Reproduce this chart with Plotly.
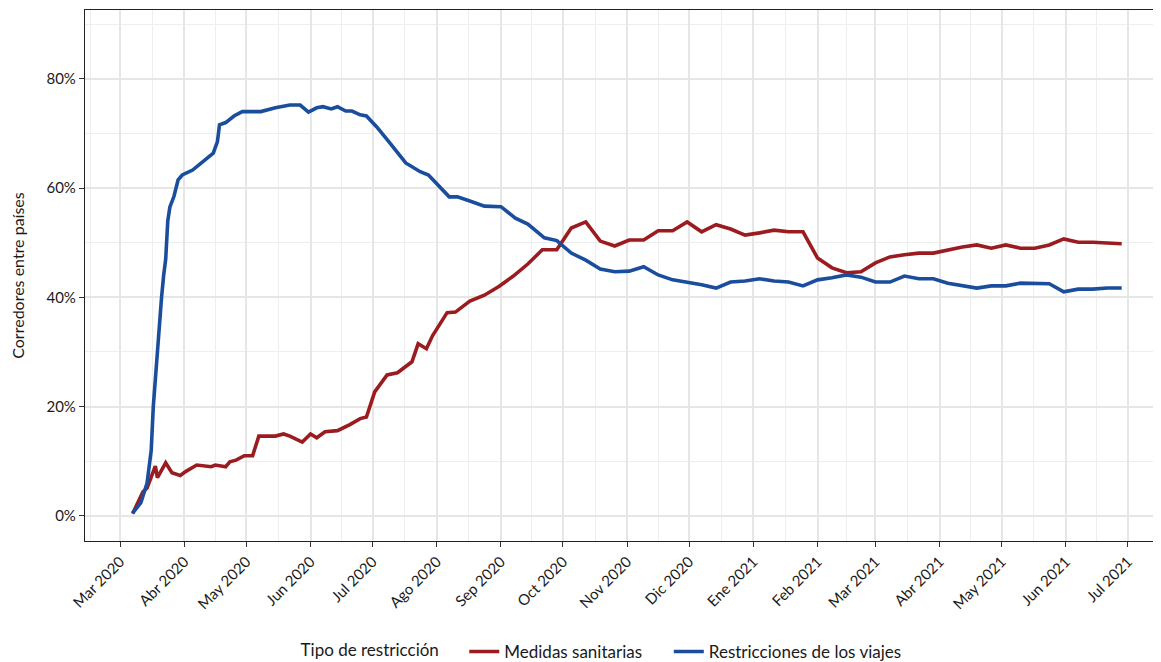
import pandas as pd
import plotly.graph_objects as go

# ---- Data ----
viajes_dates = [
    "2020-03-07", "2020-03-11", "2020-03-14", "2020-03-16", "2020-03-17", "2020-03-19",
    "2020-03-21", "2020-03-22", "2020-03-23", "2020-03-24", "2020-03-25", "2020-03-27",
    "2020-03-28", "2020-03-29", "2020-03-31", "2020-04-03", "2020-04-05", "2020-04-15",
    "2020-04-17", "2020-04-18", "2020-04-21", "2020-04-25", "2020-04-29", "2020-05-08",
    "2020-05-15", "2020-05-22", "2020-05-27", "2020-05-31", "2020-06-04", "2020-06-07",
    "2020-06-11", "2020-06-14", "2020-06-18", "2020-06-21", "2020-06-25", "2020-06-28",
    "2020-07-03", "2020-07-09", "2020-07-17", "2020-07-24", "2020-07-28", "2020-08-07",
    "2020-08-11", "2020-08-18", "2020-08-24", "2020-09-01", "2020-09-08", "2020-09-14",
    "2020-09-22", "2020-09-28", "2020-10-05", "2020-10-12", "2020-10-19", "2020-10-26",
    "2020-11-02", "2020-11-09", "2020-11-16", "2020-11-23", "2020-11-30", "2020-12-07",
    "2020-12-14", "2020-12-21", "2020-12-28", "2021-01-04", "2021-01-11", "2021-01-18",
    "2021-01-25", "2021-02-01", "2021-02-08", "2021-02-15", "2021-02-22", "2021-03-01",
    "2021-03-08", "2021-03-15", "2021-03-22", "2021-03-29", "2021-04-05", "2021-04-12",
    "2021-04-19", "2021-04-26", "2021-05-03", "2021-05-10", "2021-05-17", "2021-05-24",
    "2021-05-31", "2021-06-07", "2021-06-14", "2021-06-21", "2021-06-28",
]
viajes_vals = [
    0.5, 2.4, 6.0, 12.0, 20.0, 31.0,
    40.0, 44.0, 47.0, 54.0, 56.5, 58.5,
    60.2, 61.5, 62.4, 63.0, 63.3, 66.4,
    68.5, 71.6, 72.0, 73.2, 74.0, 74.0,
    74.7, 75.2, 75.2, 73.9, 74.7, 74.9,
    74.5, 74.9, 74.1, 74.1, 73.4, 73.2,
    71.2, 68.4, 64.6, 63.0, 62.4, 58.4,
    58.4, 57.5, 56.7, 56.6, 54.5, 53.4,
    50.9, 50.4, 48.1, 46.8, 45.2, 44.7,
    44.8, 45.6, 44.1, 43.2, 42.8, 42.3,
    41.7, 42.8, 43.0, 43.4, 43.0, 42.8,
    42.1, 43.2, 43.6, 44.1, 43.7, 42.8,
    42.8, 43.9, 43.4, 43.4, 42.6, 42.1,
    41.7, 42.1, 42.1, 42.6, 42.6, 42.5,
    41.0, 41.5, 41.5, 41.7, 41.7,
]

sanitarias_dates = [
    "2020-03-07", "2020-03-10", "2020-03-12", "2020-03-14", "2020-03-16", "2020-03-18",
    "2020-03-19", "2020-03-23", "2020-03-26", "2020-03-30", "2020-04-02", "2020-04-07",
    "2020-04-14", "2020-04-16", "2020-04-21", "2020-04-23", "2020-04-26", "2020-04-30",
    "2020-05-04", "2020-05-07", "2020-05-15", "2020-05-19", "2020-05-22", "2020-05-28",
    "2020-06-01", "2020-06-04", "2020-06-08", "2020-06-14", "2020-06-20", "2020-06-25",
    "2020-06-28", "2020-07-02", "2020-07-08", "2020-07-13", "2020-07-20", "2020-07-23",
    "2020-07-27", "2020-07-30", "2020-08-06", "2020-08-10", "2020-08-17", "2020-08-24",
    "2020-08-31", "2020-09-07", "2020-09-14", "2020-09-21", "2020-09-28", "2020-10-05",
    "2020-10-12", "2020-10-19", "2020-10-26", "2020-11-02", "2020-11-09", "2020-11-16",
    "2020-11-23", "2020-11-30", "2020-12-07", "2020-12-14", "2020-12-21", "2020-12-28",
    "2021-01-04", "2021-01-11", "2021-01-18", "2021-01-25", "2021-02-01", "2021-02-08",
    "2021-02-15", "2021-02-22", "2021-03-01", "2021-03-08", "2021-03-15", "2021-03-22",
    "2021-03-29", "2021-04-05", "2021-04-12", "2021-04-19", "2021-04-26", "2021-05-03",
    "2021-05-10", "2021-05-17", "2021-05-24", "2021-05-31", "2021-06-07", "2021-06-14",
    "2021-06-21", "2021-06-28",
]
sanitarias_vals = [
    0.4, 2.9, 4.4, 5.1, 7.1, 9.1,
    7.0, 9.7, 7.9, 7.4, 8.2, 9.3,
    9.0, 9.3, 9.0, 9.9, 10.2, 11.0,
    11.0, 14.6, 14.6, 15.0, 14.6, 13.5,
    15.0, 14.3, 15.4, 15.6, 16.7, 17.8,
    18.1, 22.7, 25.8, 26.2, 28.2, 31.5,
    30.6, 33.0, 37.2, 37.3, 39.3, 40.4,
    42.0, 43.9, 46.1, 48.7, 48.7, 52.7,
    53.8, 50.3, 49.4, 50.5, 50.5, 52.2,
    52.2, 53.8, 52.0, 53.3, 52.5, 51.4,
    51.8, 52.3, 52.0, 52.0, 47.2, 45.4,
    44.5, 44.7, 46.3, 47.4, 47.8, 48.1,
    48.1, 48.7, 49.2, 49.6, 49.0, 49.6,
    49.0, 49.0, 49.6, 50.7, 50.1, 50.1,
    50.0, 49.8,
]

month_ticks = pd.date_range("2020-03-01", "2021-07-01", freq="MS")
month_labels = [
    "Mar 2020", "Abr 2020", "May 2020", "Jun 2020", "Jul 2020", "Ago 2020",
    "Sep 2020", "Oct 2020", "Nov 2020", "Dic 2020", "Ene 2021", "Feb 2021",
    "Mar 2021", "Abr 2021", "May 2021", "Jun 2021", "Jul 2021",
]
y_ticks = [0, 20, 40, 60, 80]
y_labels = ["0%", "20%", "40%", "60%", "80%"]

# minor grid at midpoints between month breaks (ggplot style)
ext = [pd.Timestamp("2020-02-01")] + list(month_ticks) + [pd.Timestamp("2021-08-01")]
minor_x = [ext[i] + (ext[i + 1] - ext[i]) / 2 for i in range(len(ext) - 1)]

RED = "#9B1C20"
BLUE = "#1A4E9C"
FONT = "Lato"
TXT = "#1a1a1a"
NB = "\u00a0"

fig = go.Figure()
fig.add_trace(go.Scatter(
    x=pd.to_datetime(sanitarias_dates), y=sanitarias_vals, mode="lines",
    name="Medidas sanitarias" + NB * 5, line=dict(color=RED, width=3.6),
))
fig.add_trace(go.Scatter(
    x=pd.to_datetime(viajes_dates), y=viajes_vals, mode="lines",
    name="Restricciones de los viajes", line=dict(color=BLUE, width=3.6),
))

fig.update_layout(
    width=1153, height=654,
    margin=dict(l=77, r=0, t=2, b=121, autoexpand=False),
    paper_bgcolor="white", plot_bgcolor="white",
    font=dict(family=FONT, size=14, color=TXT),
    showlegend=True,
    legend=dict(
        orientation="h", x=0.1985, xanchor="left", y=-0.209, yanchor="middle",
        title=dict(text="Tipo de restricción" + NB * 4, font=dict(size=17, color=TXT)),
        font=dict(size=17, color=TXT),
        itemwidth=30, tracegroupgap=0,
    ),
    xaxis=dict(
        type="date", automargin=False,
        range=["2020-02-13", "2021-07-17"],
        tickvals=list(month_ticks), ticktext=month_labels,
        tickangle=-45, tickfont=dict(size=15, color=TXT),
        ticks="outside", ticklen=5, tickwidth=1, tickcolor="#333333",
        showline=True, linecolor="#222222", linewidth=1.2, mirror=True,
        showgrid=True, gridcolor="#E6E6E6", gridwidth=1.6,
        minor=dict(tickvals=minor_x, showgrid=True, gridcolor="#EEEEEE", gridwidth=1, ticks=""),
        zeroline=False,
    ),
    yaxis=dict(
        automargin=False,
        range=[-4.6, 92.6],
        tickvals=y_ticks, ticktext=y_labels,
        tickfont=dict(size=15, color=TXT),
        ticks="outside", ticklen=5, tickwidth=1, tickcolor="#333333",
        showline=True, linecolor="#222222", linewidth=1.2,
        showgrid=True, gridcolor="#E6E6E6", gridwidth=1.6,
        minor=dict(tickvals=[10, 30, 50, 70, 90], showgrid=True, gridcolor="#EEEEEE", gridwidth=1, ticks=""),
        zeroline=False,
        title=dict(text="Corredores entre países", font=dict(size=16, color=TXT), standoff=22),
    ),
)

fig.write_html("out.html")
